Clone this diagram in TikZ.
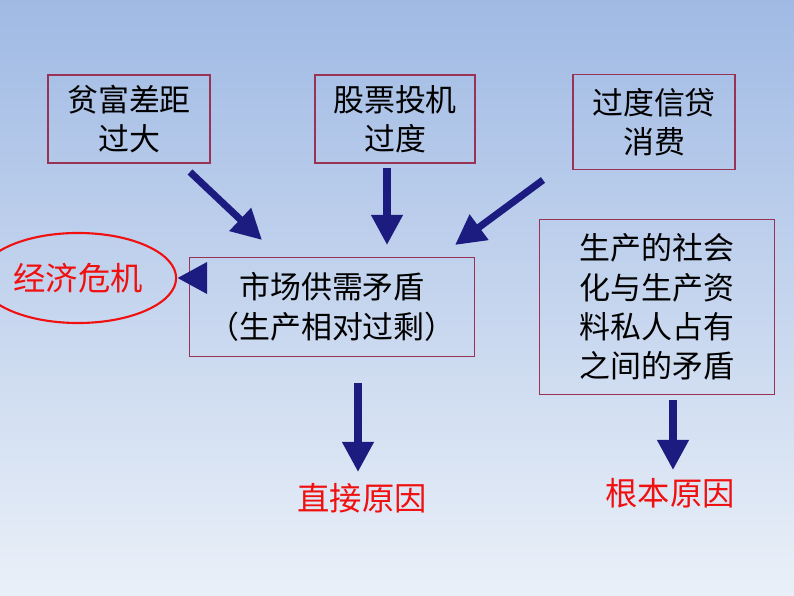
\documentclass[tikz,border=0pt]{standalone}
\usepackage{fontspec}
\setmainfont{Noto Sans CJK SC}
\usetikzlibrary{arrows.meta,shapes.geometric}
\definecolor{boxline}{HTML}{993355}
\definecolor{arrowblue}{HTML}{1C1C80}
\definecolor{redtext}{HTML}{F01010}
\tikzset{
  CauseBox/.style={rectangle, draw=boxline, line width=0.8pt, align=center, font=\fontsize{22}{28}\selectfont},
  BigArrow/.style={draw=arrowblue, line width=5pt, -{Triangle[length=0.75cm,width=0.75cm]}},
  RedLabel/.style={text=redtext, font=\fontsize{23}{28}\selectfont}
}
\begin{document}
\begin{tikzpicture}[x=0.025cm,y=-0.025cm]
  \shade[top color={rgb,255:red,160;green,186;blue,228}, bottom color={rgb,255:red,234;green,240;blue,248}] (0,0) rectangle (794,596);
  \useasboundingbox (0,0) rectangle (794,596);

  \node (Pinfu) [CauseBox, minimum width=4.05cm, minimum height=2.2cm] at (129,119) {贫富差距\\过大};
  \node (Gupiao) [CauseBox, minimum width=4cm, minimum height=2.2cm] at (395,119) {股票投机\\过度};
  \node (Xindai) [CauseBox, minimum width=4.05cm, minimum height=2.38cm] at (654,122) {过度信贷\\消费};
  \node (Gongxu) [CauseBox, minimum width=7.12cm, minimum height=2.48cm] at (332,307) {市场供需矛盾\\（生产相对过剩）};
  \node (Maodun) [CauseBox, minimum width=5.88cm, minimum height=4.38cm] at (657,307) {生产的社会\\化与生产资\\料私人占有\\之间的矛盾};
  \node (Weiji) [ellipse, draw=redtext, line width=1.5pt, minimum width=3.75cm, minimum height=2.25cm, RedLabel] at (78,278) {经济危机};
  \node (Zhijie) [RedLabel] at (362,498) {直接原因};
  \node (Genben) [RedLabel] at (670,493) {根本原因};

  \draw [BigArrow] (190,172) -- (262,240);
  \draw [BigArrow] (387,168) -- (387,245);
  \draw [BigArrow] (543,180) -- (455,245);
  \draw [BigArrow] (Gongxu.west |- 0,278) -- (Weiji.east |- 0,278);
  \draw [BigArrow] (358,383) -- (358,472);
  \draw [BigArrow] (673,400) -- (673,470);
\end{tikzpicture}
\end{document}
